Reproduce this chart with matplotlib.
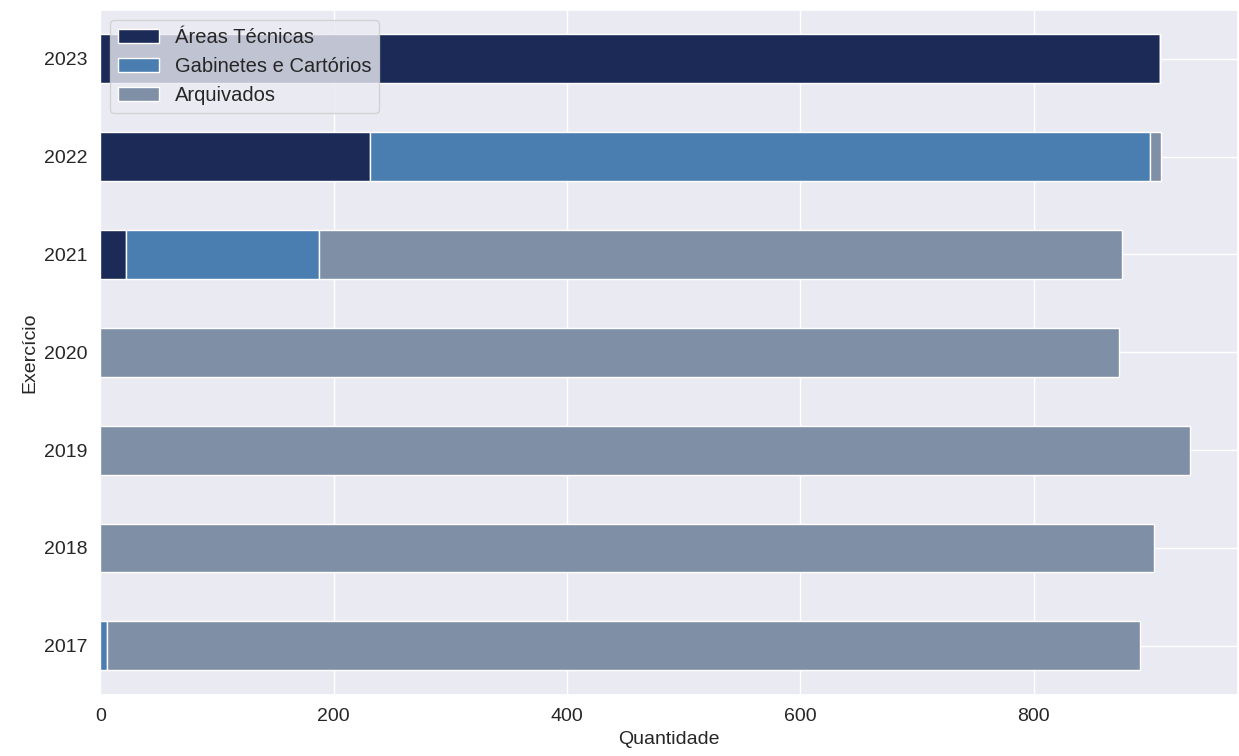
import matplotlib
matplotlib.use("Agg")
import matplotlib.pyplot as plt
import seaborn as sns
import numpy as np

sns.set_theme(style="darkgrid")
plt.rcParams['font.family'] = ['Liberation Sans', 'DejaVu Sans']

years = ["2017", "2018", "2019", "2020", "2021", "2022", "2023"]
areas = [0, 0, 0, 0, 22, 231, 908]
gabinetes = [6, 0, 0, 0, 165, 669, 0]
arquivados = [885, 903, 934, 873, 689, 9, 0]

fig, ax = plt.subplots(figsize=(12.39, 7.56), dpi=100)
y = np.arange(len(years))
h = 0.5
a = np.array(areas); g = np.array(gabinetes); r = np.array(arquivados)
ax.barh(y, a, h, color="#1b2a57", edgecolor="white", label="Áreas Técnicas")
ax.barh(y, g, h, left=a, color="#4a7eb0", edgecolor="white", label="Gabinetes e Cartórios")
ax.barh(y, r, h, left=a + g, color="#7f8fa6", edgecolor="white", label="Arquivados")
ax.set_yticks(y)
ax.set_yticklabels(years)
ax.set_ylim(-0.5, 6.5)
ax.set_xlim(0, 975)
ax.set_xticks([0, 200, 400, 600, 800])
ax.tick_params(labelsize=14)
ax.set_xlabel("Quantidade", fontsize=14, labelpad=4)
ax.set_ylabel("Exercício", fontsize=14)
ax.set_title("Situação dos processos por exercício e localização", fontsize=15, pad=12)
ax.legend(loc="upper left", fontsize=14.5)
fig.subplots_adjust(left=0.081, right=0.999, top=0.987, bottom=0.081)
fig.savefig("out.png")
